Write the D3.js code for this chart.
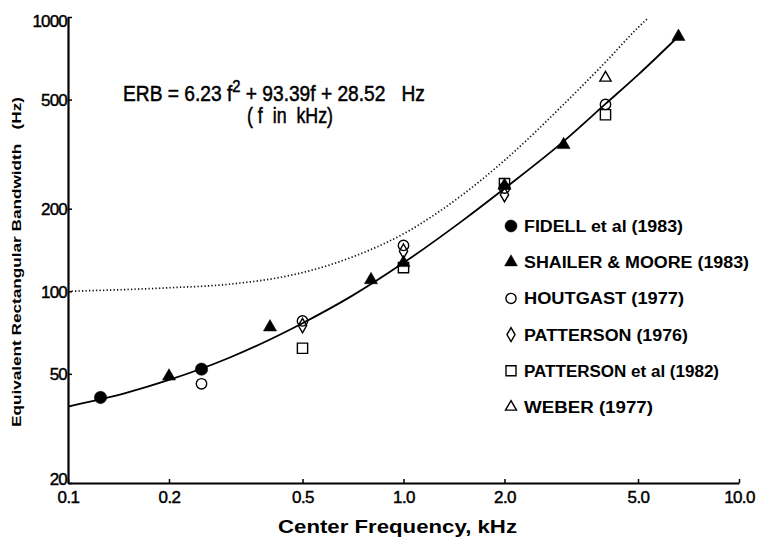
<!DOCTYPE html>
<html><head><meta charset="utf-8">
<script src="https://cdn.jsdelivr.net/npm/d3@7"></script>
<style>body{margin:0;background:#fff}</style>
</head><body>
<svg id="chart" width="757" height="544"></svg>
<script>
// ---- data ----
const xTicks = [0.1, 0.2, 0.5, 1, 2, 5, 10];
const xTickLabels = ["0.1", "0.2", "0.5", "1.0", "2.0", "5.0", "10.0"];
const yTicks = [20, 50, 100, 200, 500, 1000];
const yTickLabels = ["20", "50", "100", "200", "500", "1000"];

const fidellF = [0.125, 0.25];
const fidellV = [41, 52];
const shailerF = [0.2, 0.4, 0.8, 1.0, 2.0, 3.0, 6.6];
const shailerV = [49, 74, 110, 127, 243, 342, 848];
const houtgastF = [0.25, 0.5, 1.0, 2.0, 4.0];
const houtgastV = [46, 78, 147, 238, 480];
const patterson76F = [0.5, 1.0, 2.0];
const patterson76V = [75, 140, 225];
const patterson82F = [0.5, 1.0, 2.0, 4.0];
const patterson82V = [62, 122, 247, 440];
const weberF = [4.0];
const weberV = [600];

// fitted ERB curve (solid) and dotted curve
const erbF = [0.1, 0.15, 0.2, 0.3, 0.5, 0.7, 1.0, 1.5, 2.0, 3.0, 4.0, 5.0, 6.5];
const erbV = [38, 42.7, 47.5, 57, 76.5, 96, 127, 181, 237, 352, 482, 615, 835];
const cbF = [0.1, 0.2, 0.3, 0.5, 0.7, 1.0, 1.5, 2.0, 3.0, 4.0, 5.0, 5.35];
const cbV = [100, 103, 106, 117, 133, 162, 225, 300, 480, 685, 915, 990];

const legendLabels = ["FIDELL et al (1983)", "SHAILER & MOORE (1983)", "HOUTGAST (1977)",
  "PATTERSON (1976)", "PATTERSON et al (1982)", "WEBER (1977)"];

// ---- drawing ----
const svg = d3.select("#chart");
const x = d3.scaleLog().domain([0.1, 10]).range([68, 739]);
const y = d3.scaleLog().domain([20, 1000]).range([483, 17]);
const FONT = "'Liberation Sans', Arial, sans-serif";

const series = [
  {f: fidellF, v: fidellV, type: d3.symbolCircle, size: 120, fill: true},
  {f: shailerF, v: shailerV, type: d3.symbolTriangle, size: 75, fill: true},
  {f: houtgastF, v: houtgastV, type: d3.symbolCircle, size: 85, fill: false},
  {f: patterson76F, v: patterson76V, type: d3.symbolDiamond, size: 60, fill: false},
  {f: patterson82F, v: patterson82V, type: d3.symbolSquare, size: 105, fill: false},
  {f: weberF, v: weberV, type: d3.symbolTriangle, size: 55, fill: false}
];

// curves
const line = d3.line().x(d => x(d[0])).y(d => y(d[1])).curve(d3.curveMonotoneX);
svg.append("path").datum(cbF.map((f, i) => [f, cbV[i]]))
  .attr("d", line).attr("fill", "none").attr("stroke", "#111")
  .attr("stroke-width", 1.7).attr("stroke-dasharray", "1.3,2.2");
svg.append("path").datum(erbF.map((f, i) => [f, erbV[i]]))
  .attr("d", line).attr("fill", "none").attr("stroke", "#000")
  .attr("stroke-width", 1.8);

// axes
const xAxis = d3.axisBottom(x).tickValues(xTicks).tickSizeInner(-4).tickSizeOuter(0)
  .tickFormat((d, i) => xTickLabels[i]);
const yAxis = d3.axisLeft(y).tickValues(yTicks).tickSizeInner(-4).tickSizeOuter(0)
  .tickFormat((d, i) => yTickLabels[i]);

const gx = svg.append("g").attr("transform", "translate(0,483)").call(xAxis);
const gy = svg.append("g").attr("transform", "translate(68,0)").call(yAxis);
[gx, gy].forEach(g => {
  g.select(".domain").attr("stroke", "#000").attr("stroke-width", 2.2);
  g.selectAll(".tick line").attr("stroke", "#000").attr("stroke-width", 1.5);
  g.selectAll(".tick text").attr("fill", "#000")
    .attr("stroke", "#000").attr("stroke-width", 0.45)
    .style("font-family", FONT).style("font-size", "17px");
});
gx.selectAll(".tick text").attr("y", 8).attr("dy", "0.71em").style("letter-spacing", "-0.6px");
gy.selectAll(".tick text").attr("x", -1).attr("dy", "0.36em").style("letter-spacing", "-0.8px");
gy.selectAll(".tick text").filter(d => d === 20).attr("dy", "0.1em");
gy.selectAll(".tick text").filter(d => d === 1000).attr("dy", "0.55em");

// markers
series.forEach(s => {
  const sym = d3.symbol().type(s.type).size(s.size);
  svg.append("g").selectAll("path").data(s.f.map((f, i) => [f, s.v[i]])).join("path")
    .attr("transform", d => `translate(${x(d[0])},${y(d[1])})`)
    .attr("d", sym)
    .attr("fill", s.fill ? "#000" : "none")
    .attr("stroke", "#000").attr("stroke-width", s.fill ? 0.5 : 1.4);
});

// legend
const legY0 = 226, legDy = 36.2;
const legWidths = [159, 225, 160, 164, 195, 129];
series.forEach((s, i) => {
  const sym = d3.symbol().type(s.type).size(s.size * 0.95);
  svg.append("path").attr("transform", `translate(511,${legY0 + i * legDy})`)
    .attr("d", sym).attr("fill", s.fill ? "#000" : "none")
    .attr("stroke", "#000").attr("stroke-width", s.fill ? 0.5 : 1.4);
  svg.append("text").attr("x", 524).attr("y", legY0 + i * legDy + 6)
    .text(legendLabels[i])
    .style("font-family", FONT)
    .style("font-weight", "bold").style("font-size", "16px")
    .attr("textLength", legWidths[i]).attr("lengthAdjust", "spacingAndGlyphs");
});

// formula annotation (scaled horizontally to match the condensed face)
function scaledText(xLeft, yBase, targetW, size, build) {
  const g = svg.append("g");
  const t = g.append("text").attr("x", 0).attr("y", 0)
    .attr("stroke", "#000").attr("stroke-width", 0.5)
    .style("font-family", FONT).style("font-size", size + "px");
  build(t);
  const w = t.node().getBBox().width;
  g.attr("transform", `translate(${xLeft},${yBase}) scale(${targetW / w},1)`);
}
scaledText(123, 101, 302, 22, t => {
  t.append("tspan").text("ERB = 6.23 f");
  t.append("tspan").attr("dy", -9).style("font-size", "17px").text("2");
  t.append("tspan").attr("dy", 9).text(" + 93.39f + 28.52\u00a0\u00a0 Hz");
});
scaledText(247, 123, 86, 22, t => {
  t.append("tspan").text("( f \u00a0in \u00a0kHz)");
});

// axis titles
svg.append("text").attr("x", 278).attr("y", 533)
  .text("Center Frequency, kHz")
  .style("font-family", FONT)
  .style("font-weight", "bold").style("font-size", "18px")
  .attr("textLength", 239).attr("lengthAdjust", "spacingAndGlyphs");

svg.append("text").attr("transform", "translate(21,427) rotate(-90)")
  .text("Equivalent Rectangular Bandwidth \u00a0\u00a0(Hz)")
  .style("font-family", FONT)
  .style("font-weight", "bold").style("font-size", "12.5px")
  .attr("textLength", 330).attr("lengthAdjust", "spacingAndGlyphs");
</script>
</body></html>
